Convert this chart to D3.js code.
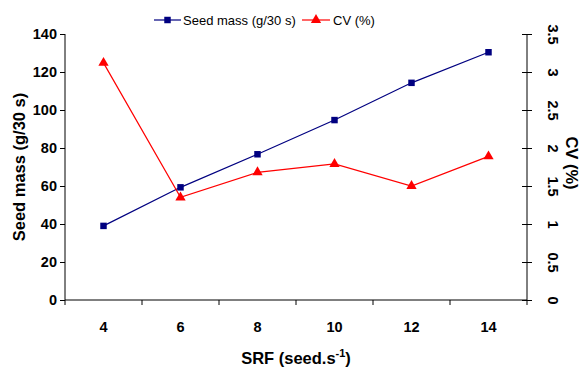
<!DOCTYPE html>
<html>
<head>
<meta charset="utf-8">
<script src="https://cdn.jsdelivr.net/npm/d3@7"></script>
<style>
	body { margin: 0; background: #fff; }
	svg text { font-family: "Liberation Sans", Arial, sans-serif; }
</style>
</head>
<body>
<div id="chart"></div>
<script>
var srf = [4, 6, 8, 10, 12, 14];
var seedMass = [39, 59.3, 76.7, 94.7, 114.3, 130.4];
var cv = [3.12, 1.35, 1.68, 1.79, 1.5, 1.89];
var massTicks = [0, 20, 40, 60, 80, 100, 120, 140];
var cvTicks = [0, 0.5, 1, 1.5, 2, 2.5, 3, 3.5];

(function() {
	var width = 581, height = 371;
	var pLeft = 65, pRight = 527, pTop = 34, pBottom = 300;

	var svg = d3.select('#chart').append('svg')
		.attr('width', width)
		.attr('height', height);

	var x = d3.scaleBand().domain(srf).range([pLeft, pRight]);
	var yL = d3.scaleLinear().domain([0, 140]).range([pBottom, pTop]);
	var yR = d3.scaleLinear().domain([0, 3.5]).range([pBottom, pTop]);
	var cx = function(d) { return x(d) + x.bandwidth() / 2; };

	// left axis
	var gL = svg.append('g').attr('transform', 'translate(' + pLeft + ',0)')
		.call(d3.axisLeft(yL).tickValues(massTicks).tickSize(5).tickPadding(3));
	gL.selectAll('text').attr('font-size', 14.5).attr('font-weight', 'bold').attr('fill', '#000');

	// right axis, ticks crossing the line
	var gR = svg.append('g').attr('transform', 'translate(' + pRight + ',0)')
		.call(d3.axisRight(yR).tickValues(cvTicks).tickSize(5).tickFormat(d3.format('')));
	gR.selectAll('.tick line').attr('x1', -5);
	gR.selectAll('.tick text')
		.attr('x', 0).attr('dy', null)
		.attr('transform', 'translate(26,0) rotate(90)')
		.attr('text-anchor', 'middle')
		.attr('dominant-baseline', 'central')
		.attr('font-size', 14.5).attr('font-weight', 'bold').attr('fill', '#000');

	svg.selectAll('.tick line').attr('stroke', '#000');
	svg.selectAll('.domain').attr('stroke', '#000').attr('d', 'M0,' + pTop + 'V' + pBottom);

	// bottom axis, ticks at band edges
	var gB = svg.append('g').attr('transform', 'translate(0,' + pBottom + ')');
	gB.append('line').attr('x1', pLeft).attr('x2', pRight).attr('stroke', '#000');
	var edges = srf.map(function(d) { return x(d); }).concat([pRight]);
	gB.selectAll('.edge').data(edges).enter().append('line')
		.attr('x1', function(d) { return d; }).attr('x2', function(d) { return d; })
		.attr('y1', 0).attr('y2', 5).attr('stroke', '#000');
	gB.selectAll('.lbl').data(srf).enter().append('text')
		.attr('x', cx).attr('y', 32)
		.attr('text-anchor', 'middle')
		.attr('font-size', 14.5).attr('font-weight', 'bold')
		.text(function(d) { return d; });

	// axis titles
	svg.append('text')
		.attr('transform', 'translate(25,' + ((pTop + pBottom) / 2) + ') rotate(-90)')
		.attr('text-anchor', 'middle')
		.attr('font-size', 16.5).attr('font-weight', 'bold')
		.text('Seed mass (g/30 s)');
	svg.append('text')
		.attr('transform', 'translate(566,' + ((pTop + pBottom) / 2 - 4) + ') rotate(90)')
		.attr('text-anchor', 'middle')
		.attr('font-size', 16.5).attr('font-weight', 'bold')
		.text('CV (%)');
	var xt = svg.append('text')
		.attr('x', 296).attr('y', 364)
		.attr('text-anchor', 'middle')
		.attr('font-size', 16.5).attr('font-weight', 'bold');
	xt.append('tspan').text('SRF (seed.s');
	xt.append('tspan').attr('dy', -7).attr('font-size', 11).text('-1');
	xt.append('tspan').attr('dy', 7).text(')');

	// series
	var massLine = d3.line().x(function(d, i) { return cx(srf[i]); }).y(function(d) { return yL(d); });
	var cvLine = d3.line().x(function(d, i) { return cx(srf[i]); }).y(function(d) { return yR(d); });

	svg.append('path').datum(seedMass).attr('d', massLine)
		.attr('fill', 'none').attr('stroke', '#000080').attr('stroke-width', 1.2);
	svg.append('path').datum(cv).attr('d', cvLine)
		.attr('fill', 'none').attr('stroke', '#ff0000').attr('stroke-width', 1.2);

	var sq = d3.symbol().type(d3.symbolSquare).size(42);
	var tri = d3.symbol().type(d3.symbolTriangle).size(46);

	svg.selectAll('.pm').data(seedMass).enter().append('path')
		.attr('d', sq)
		.attr('transform', function(d, i) { return 'translate(' + cx(srf[i]) + ',' + yL(d) + ')'; })
		.attr('fill', '#000080');
	svg.selectAll('.pc').data(cv).enter().append('path')
		.attr('d', tri)
		.attr('transform', function(d, i) { return 'translate(' + cx(srf[i]) + ',' + yR(d) + ')'; })
		.attr('fill', '#ff0000');

	// legend
	var lg = svg.append('g').attr('transform', 'translate(0,20)');
	lg.append('line').attr('x1', 154).attr('x2', 181).attr('stroke', '#000080').attr('stroke-width', 1.2);
	lg.append('path').attr('d', sq).attr('transform', 'translate(167.5,0)').attr('fill', '#000080');
	lg.append('text').attr('x', 183).attr('y', 5).attr('font-size', 13).text('Seed mass (g/30 s)');
	lg.append('line').attr('x1', 302).attr('x2', 330).attr('stroke', '#ff0000').attr('stroke-width', 1.2);
	lg.append('path').attr('d', tri).attr('transform', 'translate(316,0)').attr('fill', '#ff0000');
	lg.append('text').attr('x', 333).attr('y', 5).attr('font-size', 13).text('CV (%)');
})();
</script>
</body>
</html>
